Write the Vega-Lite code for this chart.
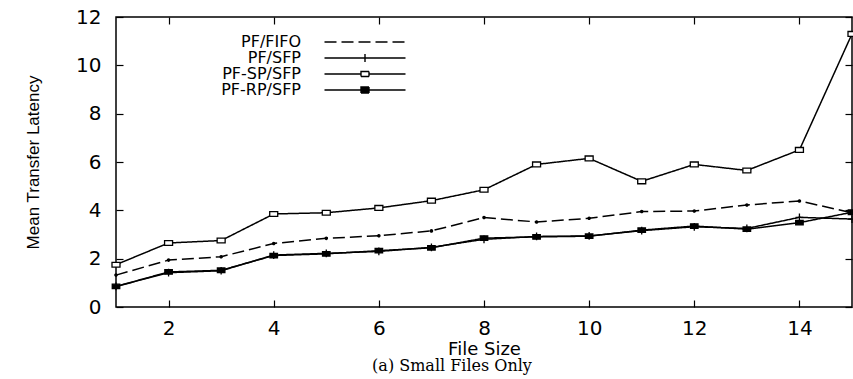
{
  "$schema": "https://vega.github.io/schema/vega-lite/v6.json",
  "width": 736,
  "height": 290,
  "autosize": {"type": "none"},
  "padding": {"left": 116, "top": 17, "right": 1, "bottom": 72},
  "background": "white",
  "config": {
    "view": {"stroke": "black", "strokeWidth": 1.5},
    "axis": {
      "domain": false,
      "grid": false,
      "tickColor": "black",
      "tickWidth": 1.2,
      "tickSize": -7,
      "labelColor": "black",
      "labelFont": "DejaVu Sans",
      "labelFontSize": 20,
      "titleColor": "black",
      "titleFontWeight": "normal"
    }
  },
  "title": {
    "text": "(a) Small Files Only",
    "orient": "bottom",
    "font": "DejaVu Serif",
    "fontSize": 16,
    "fontWeight": "normal",
    "color": "black",
    "offset": 0,
    "dx": -32
  },
  "data": {
    "values": [
      {"series": "PF/FIFO", "size": 1, "latency": 1.32},
      {"series": "PF/FIFO", "size": 2, "latency": 1.94},
      {"series": "PF/FIFO", "size": 3, "latency": 2.08},
      {"series": "PF/FIFO", "size": 4, "latency": 2.63},
      {"series": "PF/FIFO", "size": 5, "latency": 2.84},
      {"series": "PF/FIFO", "size": 6, "latency": 2.95},
      {"series": "PF/FIFO", "size": 7, "latency": 3.15},
      {"series": "PF/FIFO", "size": 8, "latency": 3.7},
      {"series": "PF/FIFO", "size": 9, "latency": 3.52},
      {"series": "PF/FIFO", "size": 10, "latency": 3.67},
      {"series": "PF/FIFO", "size": 11, "latency": 3.95},
      {"series": "PF/FIFO", "size": 12, "latency": 3.97},
      {"series": "PF/FIFO", "size": 13, "latency": 4.22},
      {"series": "PF/FIFO", "size": 14, "latency": 4.39},
      {"series": "PF/FIFO", "size": 15, "latency": 3.9},
      {"series": "PF/SFP", "size": 1, "latency": 0.85},
      {"series": "PF/SFP", "size": 2, "latency": 1.42},
      {"series": "PF/SFP", "size": 3, "latency": 1.5},
      {"series": "PF/SFP", "size": 4, "latency": 2.15},
      {"series": "PF/SFP", "size": 5, "latency": 2.22},
      {"series": "PF/SFP", "size": 6, "latency": 2.3},
      {"series": "PF/SFP", "size": 7, "latency": 2.47},
      {"series": "PF/SFP", "size": 8, "latency": 2.8},
      {"series": "PF/SFP", "size": 9, "latency": 2.92},
      {"series": "PF/SFP", "size": 10, "latency": 2.94},
      {"series": "PF/SFP", "size": 11, "latency": 3.16},
      {"series": "PF/SFP", "size": 12, "latency": 3.32},
      {"series": "PF/SFP", "size": 13, "latency": 3.25},
      {"series": "PF/SFP", "size": 14, "latency": 3.71},
      {"series": "PF/SFP", "size": 15, "latency": 3.64},
      {"series": "PF-SP/SFP", "size": 1, "latency": 1.75},
      {"series": "PF-SP/SFP", "size": 2, "latency": 2.65},
      {"series": "PF-SP/SFP", "size": 3, "latency": 2.75},
      {"series": "PF-SP/SFP", "size": 4, "latency": 3.85},
      {"series": "PF-SP/SFP", "size": 5, "latency": 3.9},
      {"series": "PF-SP/SFP", "size": 6, "latency": 4.1},
      {"series": "PF-SP/SFP", "size": 7, "latency": 4.4},
      {"series": "PF-SP/SFP", "size": 8, "latency": 4.85},
      {"series": "PF-SP/SFP", "size": 9, "latency": 5.9},
      {"series": "PF-SP/SFP", "size": 10, "latency": 6.15},
      {"series": "PF-SP/SFP", "size": 11, "latency": 5.2},
      {"series": "PF-SP/SFP", "size": 12, "latency": 5.9},
      {"series": "PF-SP/SFP", "size": 13, "latency": 5.65},
      {"series": "PF-SP/SFP", "size": 14, "latency": 6.5},
      {"series": "PF-SP/SFP", "size": 15, "latency": 11.3},
      {"series": "PF-RP/SFP", "size": 1, "latency": 0.85},
      {"series": "PF-RP/SFP", "size": 2, "latency": 1.45},
      {"series": "PF-RP/SFP", "size": 3, "latency": 1.52},
      {"series": "PF-RP/SFP", "size": 4, "latency": 2.13},
      {"series": "PF-RP/SFP", "size": 5, "latency": 2.2},
      {"series": "PF-RP/SFP", "size": 6, "latency": 2.33},
      {"series": "PF-RP/SFP", "size": 7, "latency": 2.45},
      {"series": "PF-RP/SFP", "size": 8, "latency": 2.85},
      {"series": "PF-RP/SFP", "size": 9, "latency": 2.9},
      {"series": "PF-RP/SFP", "size": 10, "latency": 2.93},
      {"series": "PF-RP/SFP", "size": 11, "latency": 3.18},
      {"series": "PF-RP/SFP", "size": 12, "latency": 3.35},
      {"series": "PF-RP/SFP", "size": 13, "latency": 3.22},
      {"series": "PF-RP/SFP", "size": 14, "latency": 3.49},
      {"series": "PF-RP/SFP", "size": 15, "latency": 3.92}
    ]
  },
  "layer": [
    {
      "mark": {"type": "line", "stroke": "black", "strokeWidth": 1.5},
      "encoding": {
        "x": {
          "field": "size", "type": "quantitative",
          "scale": {"domain": [1, 15], "nice": false, "zero": false},
          "axis": {"orient": "bottom", "values": [2, 4, 6, 8, 10, 12, 14], "labelPadding": 18, "title": "File Size", "titleFont": "DejaVu Sans", "titleFontSize": 18, "titlePadding": 2}
        },
        "y": {
          "field": "latency", "type": "quantitative",
          "scale": {"domain": [0, 12], "nice": false},
          "axis": {"orient": "left", "values": [0, 2, 4, 6, 8, 10, 12], "labelPadding": 22, "title": "Mean Transfer Latency", "titleFont": "Liberation Sans", "titleFontSize": 17, "titlePadding": 33}
        },
        "strokeDash": {
          "field": "series", "type": "nominal",
          "scale": {"domain": ["PF/FIFO", "PF/SFP", "PF-SP/SFP", "PF-RP/SFP"], "range": [[12, 5], [1, 0], [1, 0], [1, 0]]},
          "legend": {
            "title": null,
            "orient": "none",
            "legendX": 241,
            "legendY": 17,
            "padding": 0,
            "rowPadding": -5,
            "labelFont": "DejaVu Sans",
            "labelFontSize": 16,
            "labelColor": "black",
            "labelAlign": "right",
            "labelOffset": -72,
            "labelLimit": 300,
            "symbolSize": 100,
            "symbolStrokeColor": "black",
            "symbolStrokeWidth": 1.4,
            "symbolOpacity": 1,
            "symbolType": {"expr": "datum.value === 'PF/FIFO' ? 'M-8.1,0H8.1' : datum.value === 'PF/SFP' ? 'M-8.1,0H8.1M0,-0.8V0.8' : datum.value === 'PF-SP/SFP' ? 'M-8.1,0H-0.8M0.8,0H8.1M-0.8,-0.5H0.8V0.5H-0.8Z' : 'M-8.1,0H8.1M-0.8,-0.6H0.8V0.6H-0.8Z'"},
            "symbolFillColor": {"expr": "datum.value === 'PF-RP/SFP' ? 'black' : 'white'"}
          }
        }
      }
    },
    {
      "mark": {"type": "point", "filled": true, "stroke": "black", "strokeWidth": 1.3, "opacity": 1},
      "encoding": {
        "x": {"field": "size", "type": "quantitative", "axis": null},
        "y": {"field": "latency", "type": "quantitative", "axis": null},
        "shape": {
          "field": "series", "type": "nominal",
          "scale": {
            "domain": ["PF-RP/SFP", "PF-SP/SFP", "PF/FIFO", "PF/SFP"],
            "range": ["M-1,-0.6H1V0.6H-1Z", "M-1,-0.6H1V0.6H-1Z", "circle", "M-1,0H1M0,-1V1"]
          },
          "legend": null
        },
        "fill": {
          "field": "series", "type": "nominal",
          "scale": {"domain": ["PF-RP/SFP", "PF-SP/SFP", "PF/FIFO", "PF/SFP"], "range": ["black", "white", "black", "black"]},
          "legend": null
        },
        "size": {
          "field": "series", "type": "nominal",
          "scale": {"type": "ordinal", "domain": ["PF-RP/SFP", "PF-SP/SFP", "PF/FIFO", "PF/SFP"], "range": [56, 64, 5, 60]},
          "legend": null
        }
      }
    },
    {
      "mark": {"type": "point", "opacity": 0},
      "encoding": {
        "x": {"field": "size", "type": "quantitative", "axis": {"orient": "top", "values": [2, 4, 6, 8, 10, 12, 14], "labels": false, "title": null}},
        "y": {"field": "latency", "type": "quantitative", "axis": {"orient": "right", "values": [0, 2, 4, 6, 8, 10, 12], "labels": false, "title": null}}
      }
    }
  ],
  "resolve": {"axis": {"x": "independent", "y": "independent"}}
}
